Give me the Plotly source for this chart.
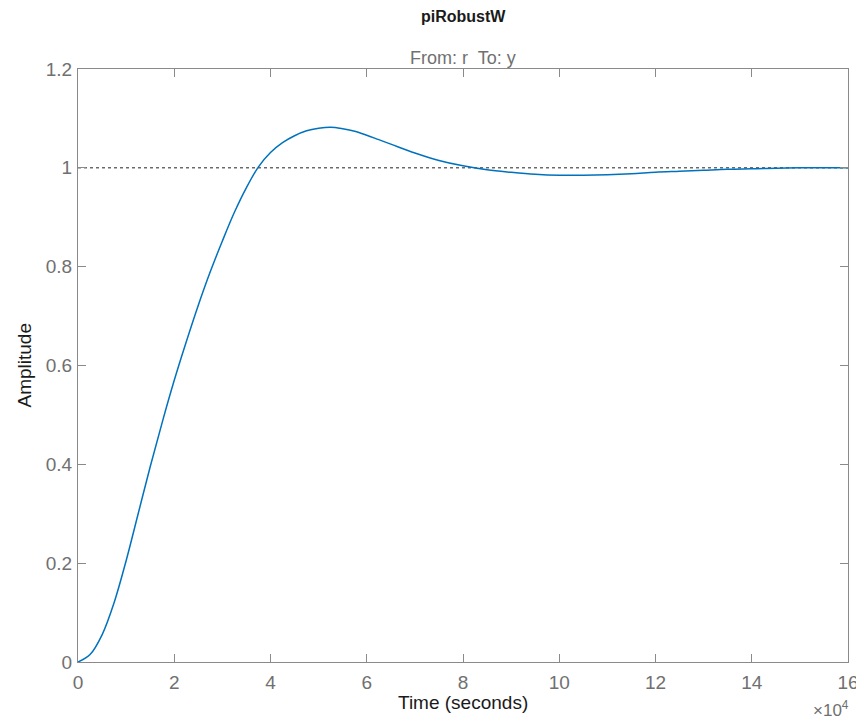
import plotly.graph_objects as go

# Time in units of 1e4 seconds and step-response amplitude
time_1e4 = [0, 0.25, 0.5, 0.75, 1.0, 1.25, 1.5, 1.75, 2.0, 2.25, 2.5, 2.75, 3.0, 3.25,
            3.5, 3.75, 4.0, 4.25, 4.5, 4.75, 5.0, 5.25, 5.5, 5.75, 6.0, 6.25, 6.5, 7.0,
            7.5, 8.0, 8.5, 9.0, 9.5, 10.0, 10.5, 11.0, 11.5, 12.0, 12.5, 13.0, 13.5,
            14.0, 15.0, 16.0]
amplitude = [0, 0.015, 0.055, 0.12, 0.205, 0.30, 0.395, 0.485, 0.57, 0.648, 0.722, 0.79,
             0.852, 0.910, 0.960, 1.002, 1.031, 1.051, 1.065, 1.075, 1.080, 1.082, 1.079,
             1.074, 1.066, 1.057, 1.048, 1.030, 1.015, 1.004, 0.996, 0.991, 0.987, 0.985,
             0.985, 0.986, 0.988, 0.991, 0.993, 0.995, 0.997, 0.998, 1.0, 1.0]
steady_state = [1.0, 1.0]
x_ticks = [0, 2, 4, 6, 8, 10, 12, 14, 16]
y_ticks = [0, 0.2, 0.4, 0.6, 0.8, 1.0, 1.2]
y_ticklabels = ["0", "0.2", "0.4", "0.6", "0.8", "1", "1.2"]

AX = "#8a8a8a"
LBL = "#707070"
DARK = "#1a1a1a"
FONT = "Liberation Sans, Arial, sans-serif"

# page has an 8px body margin, so the figure is drawn 8px in from the top-left
OFF = 8
W, H = 864 - OFF, 724 - OFF
ML, MT = 78 - OFF, 69 - OFF
MR = W - (848 - OFF)
MB = H - (662 - OFF)
PW, PH = W - ML - MR, H - MT - MB


def px_y(py):
    """page pixel row -> paper y"""
    return (H - MB - (py - OFF)) / PH


def px_x(px):
    return (px - OFF - ML) / PW


fig = go.Figure()
fig.add_trace(go.Scatter(x=[0, 16], y=steady_state, mode="lines",
                         line=dict(color="#222222", width=1, dash="dot"),
                         hoverinfo="skip", showlegend=False))
fig.add_trace(go.Scatter(x=time_1e4, y=amplitude, mode="lines",
                         line=dict(color="#0072BD", width=1.5, shape="spline", smoothing=1.0),
                         showlegend=False))

axis_common = dict(showgrid=False, zeroline=False, showline=True, linecolor=AX, linewidth=1,
                   mirror="allticks", ticks="inside", ticklen=8, tickcolor=AX,
                   tickfont=dict(size=19, color=LBL, family=FONT), automargin=False)

fig.update_layout(
    width=W, height=H,
    margin=dict(l=ML, r=MR, t=MT, b=MB),
    paper_bgcolor="white", plot_bgcolor="white",
    font=dict(family=FONT, size=19, color=LBL),
    showlegend=False,
    xaxis=dict(range=[0, 16], tickvals=x_ticks, ticktext=[str(v) for v in x_ticks],
               ticklabelstandoff=3, **axis_common),
    yaxis=dict(range=[0, 1.2], tickvals=y_ticks, ticktext=y_ticklabels, ticklabelstandoff=1,
               **axis_common),
    annotations=[
        dict(text="<b>piRobustW</b>", xref="paper", x=0.5, yref="paper", y=px_y(17),
             yanchor="middle", showarrow=False, font=dict(size=16, color=DARK)),
        dict(text="From: r  To: y", xref="paper", x=0.5, yref="paper", y=px_y(58),
             yanchor="middle", showarrow=False, font=dict(size=18, color=LBL)),
        dict(text="Time (seconds)", xref="paper", x=0.5, yref="paper", y=px_y(703),
             yanchor="middle", showarrow=False, font=dict(size=19, color=DARK)),
        dict(text="Amplitude", xref="paper", x=px_x(24), xanchor="center", yref="paper", y=0.5,
             yanchor="middle", textangle=-90, showarrow=False, font=dict(size=19, color=DARK)),
        dict(text="×10<sup>4</sup>", xref="paper", x=px_x(851), xanchor="right",
             yref="paper", y=px_y(709), yanchor="middle", showarrow=False,
             font=dict(size=17, color=LBL)),
    ],
)

fig.write_html("out.html")
